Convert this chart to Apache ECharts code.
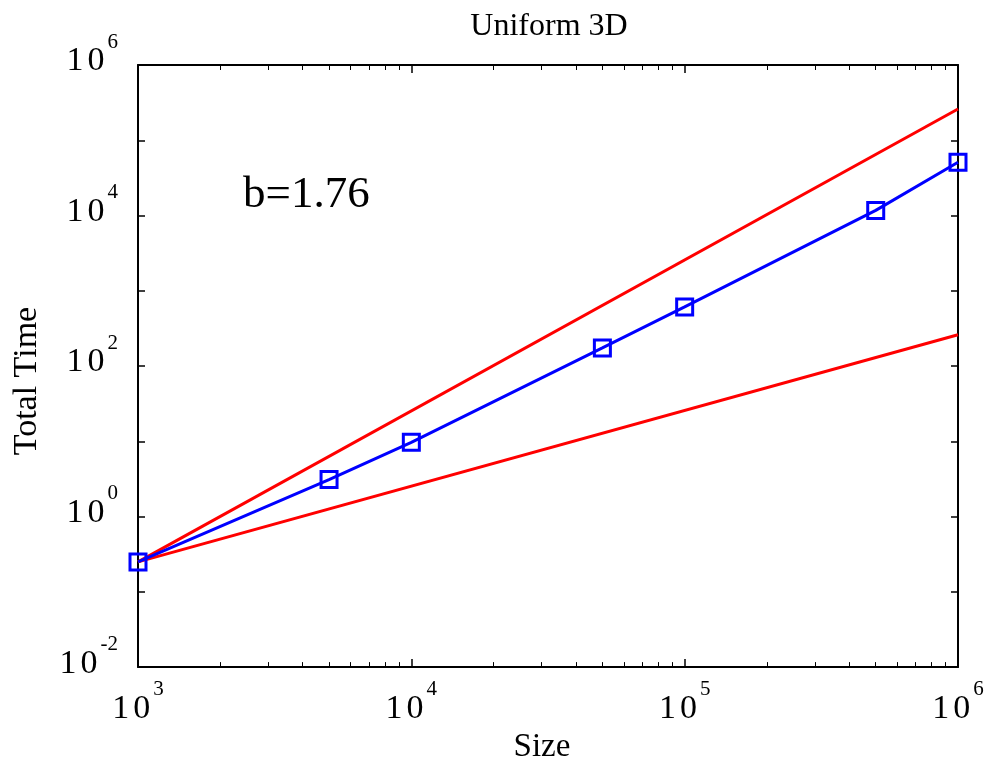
<!DOCTYPE html>
<html>
<head>
<meta charset="utf-8">
<script src="https://cdn.jsdelivr.net/npm/echarts@6/dist/echarts.min.js"></script>
<style>
  html, body { margin: 0; padding: 0; background: #fff; }
  #chart { width: 1001px; height: 769px; }
</style>
</head>
<body>
<div id="chart"></div>
<script>
// Problem sizes and measured total run time (log-log)
const sizes = [1000, 5000, 10000, 50000, 100000, 500000, 1000000];
const totalTime = [0.25, 3.1, 9.7, 174, 610, 11700, 51000];

// Reference slopes drawn from the first measurement: b = 2 (upper) and b = 1 (lower)
const upperRefX = [1000, 1000000];
const upperRefY = [0.25, 260000];
const lowerRefX = [1000, 1000000];
const lowerRefY = [0.25, 260];

const fitLabel = 'b=1.76';
const titleText = 'Uniform 3D';
const xName = 'Size';
const yName = 'Total Time';

const FONT = 'Liberation Serif';

function pairs(xs, ys) { return xs.map((x, i) => [x, ys[i]]); }

// "10" with a superscript exponent
function powLabel(v, everyOther) {
  const e = Math.round(Math.log10(v));
  if (everyOther && e % 2 !== 0) return '';
  return '{a|1}{b|0}{e|' + e + '}';
}
const powRich = {
  a: { fontFamily: FONT, fontSize: 34, color: '#000', padding: [0, 4, 0, 0], verticalAlign: 'bottom' },
  b: { fontFamily: FONT, fontSize: 34, color: '#000', verticalAlign: 'bottom' },
  e: { fontFamily: FONT, fontSize: 21, color: '#000', verticalAlign: 'bottom', padding: [0, 0, 26, 3] }
};

const chart = echarts.init(document.getElementById('chart'), null, { renderer: 'canvas' });

const axisLine = { show: true, onZero: false, lineStyle: { color: '#000', width: 2 } };

chart.setOption({
  animation: false,
  backgroundColor: '#fff',
  title: {
    text: titleText,
    left: 544,
    textAlign: 'center',
    top: 6,
    textStyle: { fontFamily: FONT, fontSize: 32, fontWeight: 'normal', color: '#000' }
  },
  grid: { left: 138, right: 43, top: 65, bottom: 101, containLabel: false },
  xAxis: [
    {
      type: 'log', logBase: 10, min: 1000, max: 1000000, interval: 1,
      position: 'bottom',
      name: xName, nameLocation: 'middle', nameGap: 62,
      nameTextStyle: { fontFamily: FONT, fontSize: 33, color: '#000', padding: [0, 12, 0, 0] },
      axisLine: axisLine,
      axisTick: { show: true, inside: true, length: 8, lineStyle: { color: '#000', width: 1.5 } },
      minorTick: { show: true, splitNumber: 9, length: 5, lineStyle: { color: '#000', width: 1 } },
      axisLabel: { formatter: v => powLabel(v, false), rich: powRich, margin: 12 },
      splitLine: { show: false }, minorSplitLine: { show: false }
    },
    {
      type: 'log', logBase: 10, min: 1000, max: 1000000, interval: 1,
      position: 'top',
      axisLine: axisLine,
      axisTick: { show: true, inside: true, length: 8, lineStyle: { color: '#000', width: 1.5 } },
      minorTick: { show: true, splitNumber: 9, length: 5, lineStyle: { color: '#000', width: 1 } },
      axisLabel: { show: false },
      splitLine: { show: false }, minorSplitLine: { show: false }
    }
  ],
  yAxis: [
    {
      type: 'log', logBase: 10, min: 0.01, max: 1000000, interval: 1,
      position: 'left',
      name: yName, nameLocation: 'middle', nameGap: 94, nameRotate: 90,
      nameTextStyle: { fontFamily: FONT, fontSize: 34, color: '#000', padding: [0, 30, 0, 0] },
      axisLine: axisLine,
      axisTick: { show: true, inside: true, length: 7, lineStyle: { color: '#000', width: 1.5 } },
      axisLabel: { formatter: v => powLabel(v, true), rich: powRich, margin: 20, padding: [0, 0, 20, 0] },
      splitLine: { show: false }
    },
    {
      type: 'log', logBase: 10, min: 0.01, max: 1000000, interval: 1,
      position: 'right',
      axisLine: axisLine,
      axisTick: { show: true, inside: true, length: 7, lineStyle: { color: '#000', width: 1.5 } },
      axisLabel: { show: false },
      splitLine: { show: false }
    }
  ],
  graphic: [
    {
      type: 'text', left: 243, top: 173,
      style: { text: fitLabel, fontFamily: FONT, fontSize: 45, fill: '#000' }
    }
  ],
  series: [
    {
      type: 'line', xAxisIndex: 0, yAxisIndex: 0,
      data: pairs(upperRefX, upperRefY),
      showSymbol: false, symbol: 'none',
      lineStyle: { color: '#ff0000', width: 3 },
      silent: true, z: 2
    },
    {
      type: 'line', xAxisIndex: 0, yAxisIndex: 0,
      data: pairs(lowerRefX, lowerRefY),
      showSymbol: false, symbol: 'none',
      lineStyle: { color: '#ff0000', width: 3 },
      silent: true, z: 2
    },
    {
      type: 'line', xAxisIndex: 0, yAxisIndex: 0,
      data: pairs(sizes, totalTime),
      symbol: 'rect', symbolSize: 16,
      itemStyle: { color: 'rgba(0,0,0,0)', borderColor: '#0000ff', borderWidth: 3 },
      lineStyle: { color: '#0000ff', width: 3 },
      silent: true, z: 3, clip: false
    }
  ]
});
</script>
</body>
</html>
